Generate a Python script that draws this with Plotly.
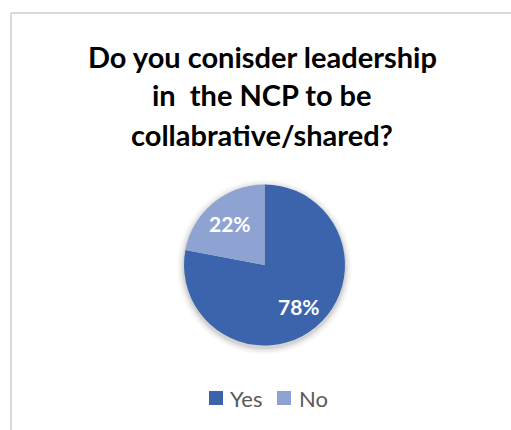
import math
import plotly.graph_objects as go

W, H = 511, 430

# Survey answers
labels = ["Yes", "No"]
values = [78, 22]
colors = ["#3B64AD", "#8FA3D3"]

title_lines = ["Do you conisder leadership", "in  the NCP to be", "collabrative/shared?"]


def px_x(x):
    return x / W


def px_y(y):
    return 1 - y / H


# pie centre and radius in pixels
cx, cy, r = 264.5, 265, 80.5

fig = go.Figure()
fig.add_trace(go.Pie(
    labels=labels,
    values=values,
    sort=False,
    direction="clockwise",
    rotation=0,
    marker=dict(colors=colors, line=dict(color="white", width=0)),
    textinfo="none",
    domain=dict(x=[px_x(cx - r), px_x(cx + r)], y=[px_y(cy + r), px_y(cy - r)]),
    showlegend=False,
    hoverinfo="skip",
))

annotations = []

# percentage labels placed at each slice's mid-angle
total = sum(values)
start = 0.0
for lab, v in zip(labels, values):
    frac = v / total
    mid = (start + frac / 2) * 2 * math.pi
    start += frac
    lx = cx + 0.67 * r * math.sin(mid)
    ly = cy - 0.67 * r * math.cos(mid)
    annotations.append(dict(
        text=f"<b>{round(frac * 100)}%</b>", xref="paper", yref="paper",
        x=px_x(lx), y=px_y(ly), xanchor="center", yanchor="middle",
        showarrow=False, font=dict(family="Lato", size=21, color="white"),
    ))

# soft shadow around the pie
shapes = []
for grow, op in [(7, 0.025), (5, 0.035), (3, 0.05), (1.5, 0.07)]:
    shapes.append(dict(
        type="circle", xref="paper", yref="paper", layer="below",
        x0=px_x(cx - r - grow), x1=px_x(cx + r + grow),
        y0=px_y(cy + 2 + r + grow), y1=px_y(cy + 2 - r - grow),
        fillcolor=f"rgba(0,0,0,{op})", line=dict(width=0),
    ))

# chart frame (top and left edges)
shapes.append(dict(type="line", xref="paper", yref="paper",
                   x0=px_x(11), x1=1.01, y0=px_y(13), y1=px_y(13),
                   line=dict(color="#D9D9D9", width=2)))
shapes.append(dict(type="line", xref="paper", yref="paper",
                   x0=px_x(11), x1=px_x(11), y0=px_y(13), y1=-0.01,
                   line=dict(color="#D9D9D9", width=2)))

# title, one line per annotation
for i, line in enumerate(title_lines):
    annotations.append(dict(
        text=f"<b>{line}</b>", xref="paper", yref="paper",
        x=px_x(262), y=px_y(56 + i * 39), xanchor="center", yanchor="middle",
        showarrow=False, font=dict(family="Lato", size=29, color="black"),
    ))

# legend: coloured squares with labels
legend_pos = [(209, 228), (277, 297)]
for (sx, tx), lab, col in zip(legend_pos, labels, colors):
    shapes.append(dict(type="rect", xref="paper", yref="paper",
                       x0=px_x(sx), x1=px_x(sx + 14), y0=px_y(405), y1=px_y(391),
                       fillcolor=col, line=dict(width=0)))
    annotations.append(dict(
        text=lab, xref="paper", yref="paper",
        x=px_x(tx), y=px_y(398), xanchor="left", yanchor="middle",
        showarrow=False, font=dict(family="Lato", size=22, color="#595959"),
    ))

fig.update_layout(
    width=W, height=H,
    margin=dict(l=0, r=0, t=0, b=0),
    paper_bgcolor="white",
    plot_bgcolor="white",
    shapes=shapes,
    annotations=annotations,
)

fig.write_html("out.html")
